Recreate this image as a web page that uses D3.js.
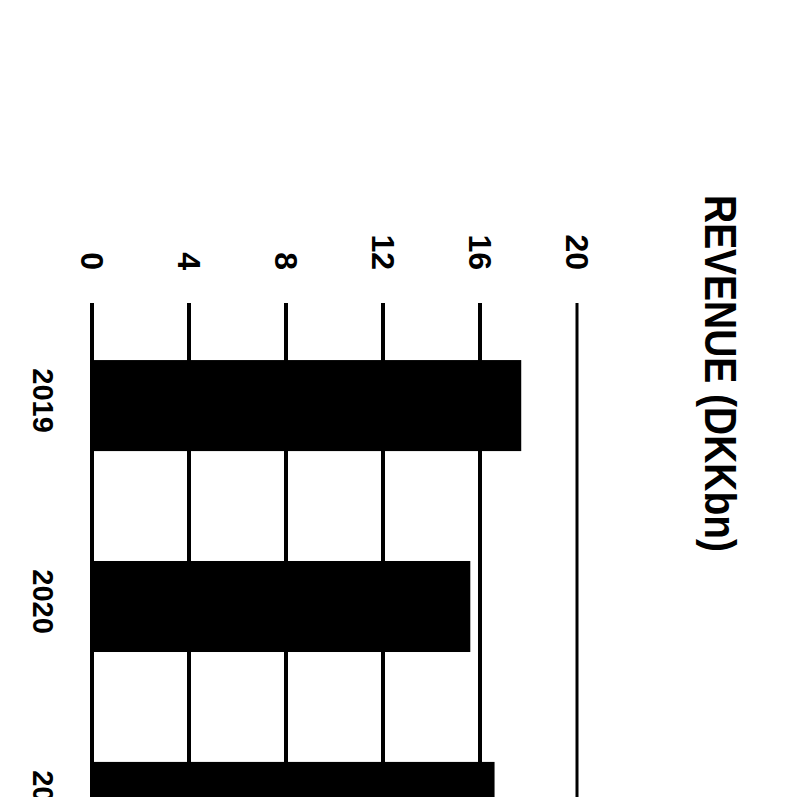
<!DOCTYPE html>
<html>
<head>
<meta charset="utf-8">
<style>
  body { margin: 0; background: #fff; }
  text { font-family: "Liberation Sans", Arial, sans-serif; font-weight: bold; fill: #000; }
</style>
</head>
<body>
<div id="chartContainer"></div>
<script src="https://cdn.jsdelivr.net/npm/d3@7"></script>
<script>
// chart data (revenue, DKK bn)
var years = ["2019", "2020", "2021"];
var revenue = [17.7, 15.6, 16.6];
var ticks = [0, 4, 8, 12, 16, 20];
var title = "REVENUE (DKKbn)";

var W = 789, H = 797;
var svg = d3.select("#chartContainer").append("svg")
  .attr("width", W).attr("height", H);

svg.append("rect").attr("width", W).attr("height", H).attr("fill", "#fff");

// the picture is a column chart turned a quarter clockwise,
// so values run left->right and years run top->bottom
var x = d3.scaleLinear().domain([0, 20]).range([92, 577]);
var y = d3.scaleBand().domain(years).range([303, 910])
  .paddingInner(0.547).paddingOuter(0.284);

// gridlines
svg.selectAll("line.grid")
  .data(ticks)
  .enter().append("line")
  .attr("class", "grid")
  .attr("x1", function (d) { return x(d); })
  .attr("x2", function (d) { return x(d); })
  .attr("y1", 303)
  .attr("y2", H + 10)
  .attr("stroke", "#000")
  .attr("stroke-width", function (d) { return d === 20 ? 3 : 4; });

// bars
svg.selectAll("rect.bar")
  .data(years)
  .enter().append("rect")
  .attr("class", "bar")
  .attr("x", x(0))
  .attr("y", function (d) { return y(d); })
  .attr("width", function (d, i) { return x(revenue[i]) - x(0); })
  .attr("height", y.bandwidth())
  .attr("fill", "#000");

// value tick labels (rotated)
svg.selectAll("text.tick")
  .data(ticks)
  .enter().append("text")
  .attr("class", "tick")
  .attr("transform", function (d) { return "translate(" + x(d) + ",270) rotate(90)"; })
  .attr("text-anchor", "end")
  .attr("dy", "0.35em")
  .style("font-size", "32px")
  .text(function (d) { return d; });

// year labels (rotated)
svg.selectAll("text.year")
  .data(years)
  .enter().append("text")
  .attr("class", "year")
  .attr("transform", function (d) { return "translate(33," + (y(d) + y.bandwidth() / 2 - 5) + ") rotate(90)"; })
  .attr("text-anchor", "middle")
  .style("font-size", "29px")
  .text(function (d) { return d; });

// title
svg.append("text")
  .attr("transform", "translate(720,195) rotate(90)")
  .attr("text-anchor", "start")
  .attr("dy", "0.35em")
  .attr("textLength", 357)
  .attr("lengthAdjust", "spacingAndGlyphs")
  .style("font-size", "44px")
  .text(title);
</script>
</body>
</html>
